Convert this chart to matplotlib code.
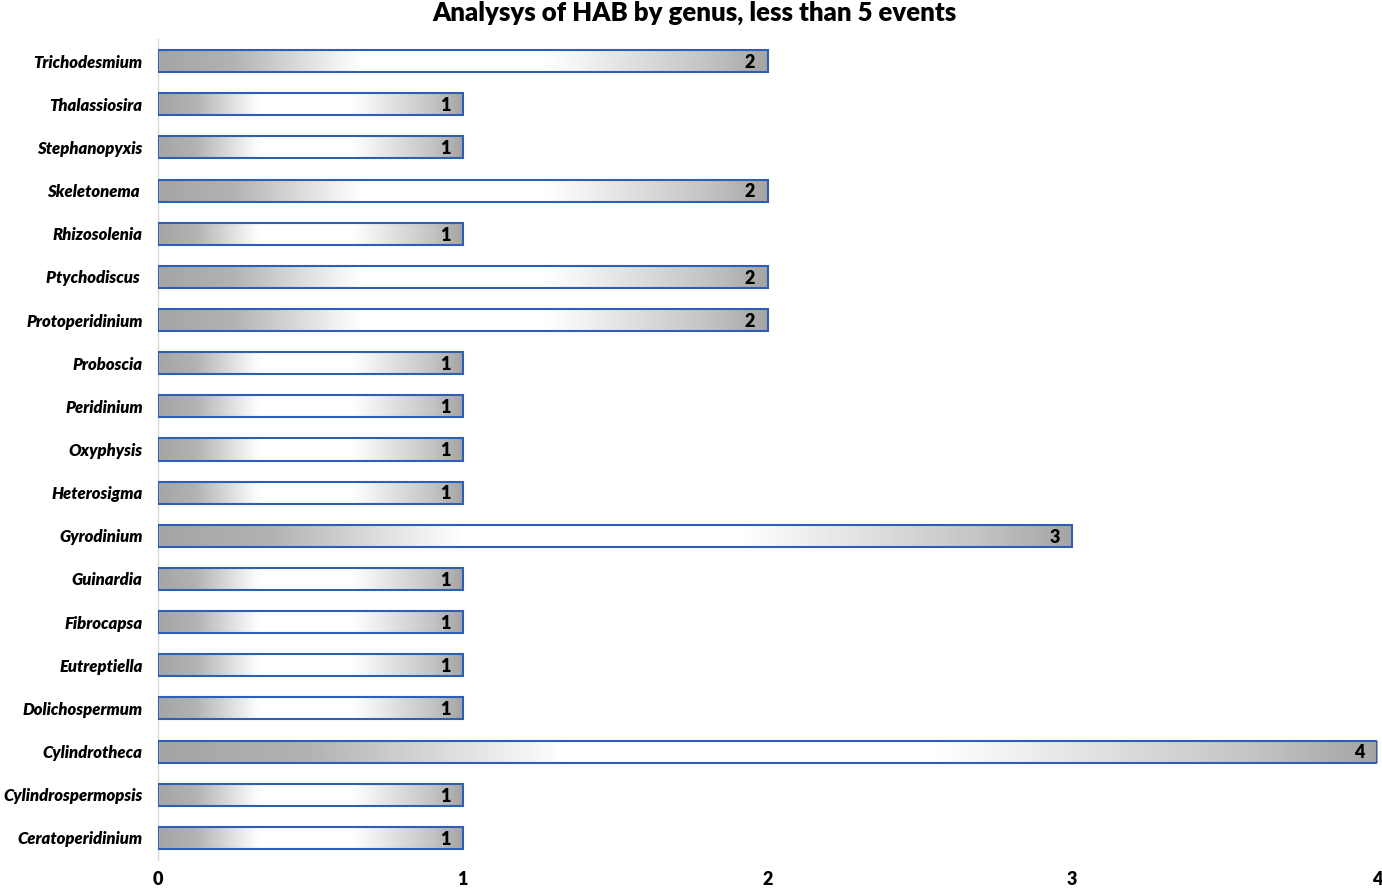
import matplotlib.pyplot as plt
import numpy as np
from matplotlib.colors import LinearSegmentedColormap
from matplotlib.patches import Rectangle

plt.rcParams['font.family'] = ['Lato', 'DejaVu Sans']

genus = ["Ceratoperidinium", "Cylindrospermopsis", "Cylindrotheca", "Dolichospermum",
         "Eutreptiella", "Fibrocapsa", "Guinardia", "Gyrodinium", "Heterosigma",
         "Oxyphysis", "Peridinium", "Proboscia", "Protoperidinium", "Ptychodiscus ",
         "Rhizosolenia", "Skeletonema ", "Stephanopyxis", "Thalassiosira", "Trichodesmium"]
events = [1, 1, 4, 1, 1, 1, 1, 3, 1, 1, 1, 1, 2, 2, 1, 2, 1, 1, 2]
xticks = [0, 1, 2, 3, 4]

grad = LinearSegmentedColormap.from_list(
    "bar", [(0.0, "#a5a5a5"), (0.12, "#b2b2b2"), (0.33, "#ffffff"),
            (0.64, "#ffffff"), (0.9, "#c4c4c4"), (1.0, "#a5a5a5")])

fig = plt.figure(figsize=(13.82, 8.88), dpi=100)
ax = fig.add_axes([158 / 1382, 1 - 859.5 / 888, (1377 - 158) / 1382, 820 / 888])

ypos = np.arange(len(genus))
h = 0.51
row = np.linspace(0, 1, 256).reshape(1, -1)
for y, v in zip(ypos, events):
    im = ax.imshow(row, cmap=grad, aspect="auto", extent=(0, v, y - h / 2, y + h / 2),
                   zorder=2, interpolation="bilinear")
    r = Rectangle((0, y - h / 2), v, h, facecolor="none", edgecolor="#2f5fb3",
                  linewidth=1.5, zorder=3)
    ax.add_patch(r)
    im.set_clip_path(r)
    ax.text(v - 0.04, y - 0.03, str(v), ha="right", va="center", fontsize=13,
            fontweight="heavy", zorder=4)

ax.set_xlim(0, 4)
ax.set_ylim(-0.5, len(genus) - 0.5)
ax.set_xticks(xticks)
ax.set_xticklabels([str(t) for t in xticks], fontsize=13, fontweight="heavy")
ax.set_yticks(ypos)
ax.set_yticklabels(genus, fontsize=12, fontweight="heavy", fontstyle="italic")
ax.tick_params(axis="both", length=0)
ax.tick_params(axis="y", pad=11)
ax.tick_params(axis="x", pad=8)
for s in ["top", "right", "bottom"]:
    ax.spines[s].set_visible(False)
ax.spines["left"].set_color("#d9d9d9")
ax.spines["left"].set_linewidth(1)

fig.text(694 / 1382, 1 - 13 / 888, "Analysys of HAB by genus, less than 5 events",
         ha="center", va="center", fontsize=18.5, fontweight="heavy")

fig.savefig("out.png", dpi=100)
